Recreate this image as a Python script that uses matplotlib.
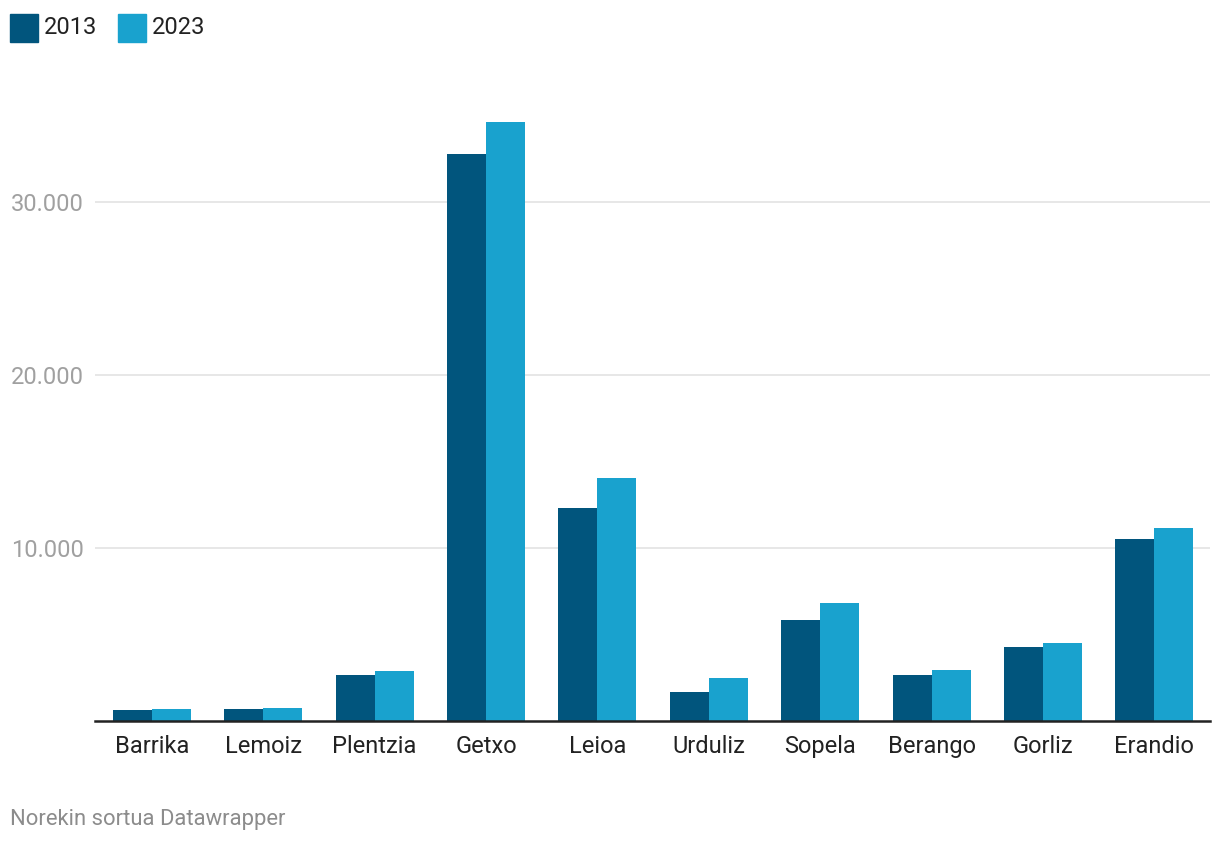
import numpy as np
import matplotlib
matplotlib.use("Agg")
import matplotlib.pyplot as plt
from matplotlib.ticker import FuncFormatter
from matplotlib.patches import Rectangle

plt.rcParams['font.family'] = ['Roboto', 'DejaVu Sans']

# data
towns = ["Barrika", "Lemoiz", "Plentzia", "Getxo", "Leioa",
         "Urduliz", "Sopela", "Berango", "Gorliz", "Erandio"]
pop_2013 = [660, 720, 2690, 32800, 12340, 1705, 5870, 2690, 4310, 10550]
pop_2023 = [720, 780, 2920, 34650, 14075, 2515, 6850, 2975, 4540, 11185]
years = ["2013", "2023"]
y_ticks = [10000, 20000, 30000]

dark = "#01557d"
light = "#19a2ce"

fig = plt.figure(figsize=(12.2, 8.44), dpi=100)
ax = fig.add_axes([0.0779, 0.1452, 0.914, 0.7174])

x = np.arange(len(towns))
w = 0.35
ax.bar(x - w / 2, pop_2013, w, color=dark, linewidth=0, zorder=2)
ax.bar(x + w / 2, pop_2023, w, color=light, linewidth=0, zorder=2)

ax.set_xlim(-0.51, len(towns) - 0.5)
ax.set_ylim(0, 35000)
ax.set_xticks(x)
ax.set_xticklabels(towns, fontsize=17, color="#222222")
ax.set_yticks(y_ticks)
ax.yaxis.set_major_formatter(FuncFormatter(lambda v, p: f"{int(v):,}".replace(",", ".")))
ax.tick_params(axis="x", length=0, pad=10)
ax.tick_params(axis="y", length=0, pad=8, labelsize=17, labelcolor="#a0a0a0")
ax.grid(axis="y", color="#e3e3e3", linewidth=1.2, zorder=0)
for s in ["top", "right", "left"]:
    ax.spines[s].set_visible(False)
ax.spines["bottom"].set_color("#222222")
ax.spines["bottom"].set_linewidth(1.8)
ax.spines["bottom"].set_zorder(3)

# legend as squares + text at top left
W, H = 1220, 844
for i, (lab, col) in enumerate(zip(years, [dark, light])):
    x0 = 10 + i * 108
    fig.patches.append(Rectangle((x0 / W, 1 - 42 / H), 28 / W, 28 / H,
                                 transform=fig.transFigure, color=col))
    fig.text((x0 + 34) / W, 1 - 27 / H, lab, fontsize=17, color="#222222",
             va="center", ha="left")

fig.text(10 / W, 1 - 819 / H, "Norekin sortua Datawrapper", fontsize=15.8,
         color="#8c8c8c", va="center", ha="left")

fig.savefig("out.png", dpi=100, facecolor="white")
